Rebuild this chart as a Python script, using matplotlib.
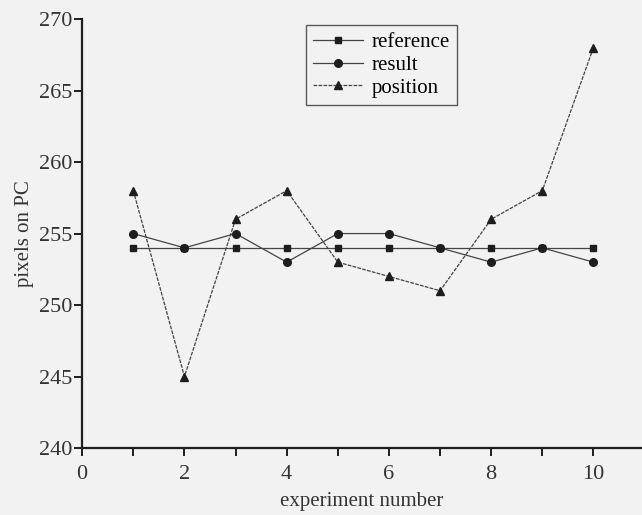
import matplotlib

matplotlib.use("Agg")
from matplotlib import pyplot as plt
from matplotlib.ticker import MultipleLocator

experiments = [1, 2, 3, 4, 5, 6, 7, 8, 9, 10]
reference = [254, 254, 254, 254, 254, 254, 254, 254, 254, 254]
result = [255, 254, 255, 253, 255, 255, 254, 253, 254, 253]
position = [258, 245, 256, 258, 253, 252, 251, 256, 258, 268]

plt.rcParams["font.family"] = ["Liberation Serif", "DejaVu Serif"]

bg = "#f2f2f2"
ink = "#1e1e1e"

fig = plt.figure(figsize=(6.42, 5.15), dpi=100)
fig.patch.set_facecolor(bg)
ax = fig.add_axes([0.128, 0.130, 0.872, 0.833])
ax.set_facecolor(bg)

ax.plot(experiments, reference, color="#444444", linewidth=0.9, marker="s",
        markersize=5, markerfacecolor=ink, markeredgecolor=ink, label="reference")
ax.plot(experiments, result, color="#444444", linewidth=0.9, marker="o",
        markersize=5.5, markerfacecolor=ink, markeredgecolor=ink, label="result")
ax.plot(experiments, position, color="#444444", linewidth=0.9, linestyle=(0, (3, 1)),
        marker="^", markersize=6, markerfacecolor=ink, markeredgecolor=ink,
        label="position")

ax.set_xlim(0, 10.95)
ax.set_ylim(240, 270)
ax.xaxis.set_major_locator(MultipleLocator(2))
ax.xaxis.set_minor_locator(MultipleLocator(1))
ax.yaxis.set_major_locator(MultipleLocator(5))

for side in ("top", "right"):
    ax.spines[side].set_visible(False)
for side in ("left", "bottom"):
    ax.spines[side].set_linewidth(1.6)
    ax.spines[side].set_color(ink)

ax.tick_params(axis="both", which="both", direction="out", color=ink,
               labelsize=16, labelcolor="#333333", width=1.4)
ax.tick_params(axis="x", which="major", length=6, pad=6)
ax.tick_params(axis="x", which="minor", length=6)
ax.tick_params(axis="y", length=6, pad=1)

ax.set_xlabel("experiment number", fontsize=15, color="#333333", labelpad=6)
ax.set_ylabel("pixels on PC", fontsize=15, color="#333333", labelpad=4)

leg = ax.legend(loc="upper left", bbox_to_anchor=(0.40, 0.985), fontsize=15,
                frameon=True, fancybox=False, handlelength=2.4, handletextpad=0.4,
                borderpad=0.35, labelspacing=0.15, borderaxespad=0)
leg.get_frame().set_edgecolor("#333333")
leg.get_frame().set_facecolor(bg)
leg.get_frame().set_linewidth(1.0)

fig.savefig("out.png", dpi=100, facecolor=bg)
